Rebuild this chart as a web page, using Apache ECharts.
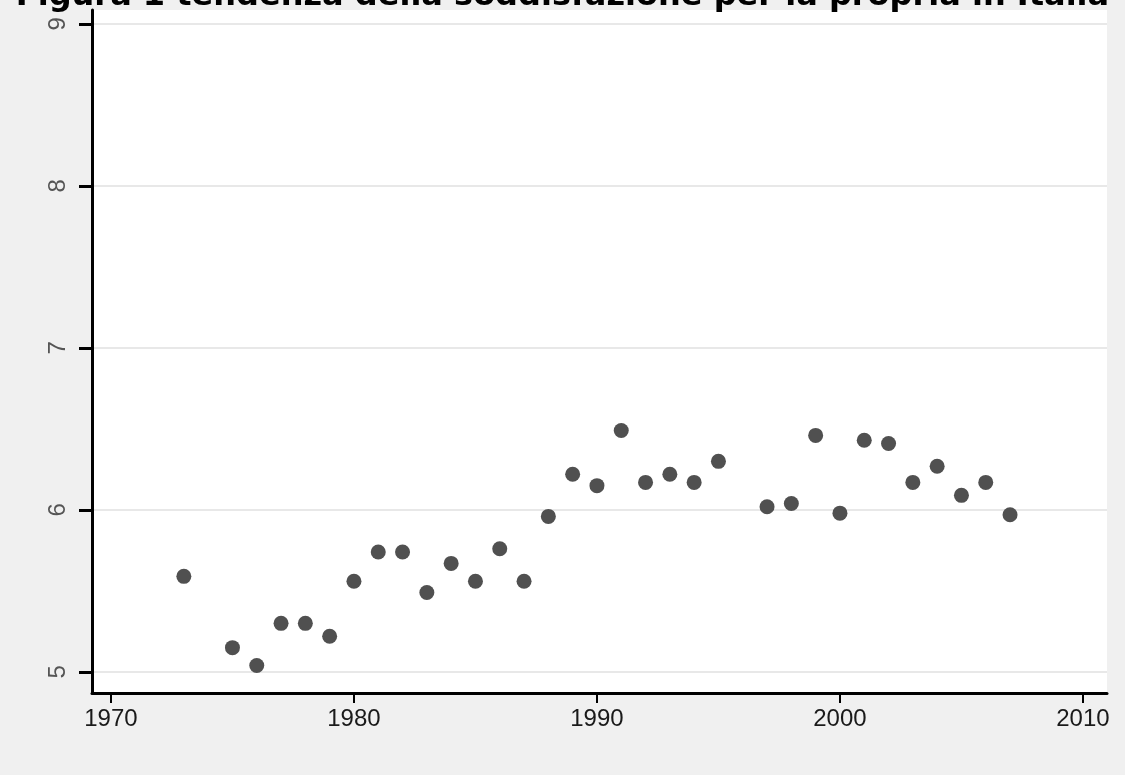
<!DOCTYPE html>
<html>
<head>
<meta charset="utf-8">
<script src="https://cdn.jsdelivr.net/npm/echarts@6/dist/echarts.min.js"></script>
<style>
  html, body { margin: 0; padding: 0; background: #f0f0f0; }
  #chart { width: 1125px; height: 775px; }
</style>
</head>
<body>
<div id="chart"></div>
<script>
// anni e valori medi di soddisfazione
const years = [1973, 1975, 1976, 1977, 1978, 1979, 1980, 1981, 1982, 1983, 1984,
  1985, 1986, 1987, 1988, 1989, 1990, 1991, 1992, 1993, 1994, 1995,
  1997, 1998, 1999, 2000, 2001, 2002, 2003, 2004, 2005, 2006, 2007];
const values = [5.59, 5.15, 5.04, 5.30, 5.30, 5.22, 5.56, 5.74, 5.74, 5.49, 5.67,
  5.56, 5.76, 5.56, 5.96, 6.22, 6.15, 6.49, 6.17, 6.22, 6.17, 6.30,
  6.02, 6.04, 6.46, 5.98, 6.43, 6.41, 6.17, 6.27, 6.09, 6.17, 5.97];

const xTicks = [1970, 1980, 1990, 2000, 2010];
const yTicks = [5, 6, 7, 8, 9];

const titleText = 'Figura 1 tendenza della soddisfazione per la propria in Italia';

const chart = echarts.init(document.getElementById('chart'));

const points = years.map((y, i) => [y, values[i]]);

chart.setOption({
  backgroundColor: '#f0f0f0',
  animation: false,
  title: {
    text: titleText,
    left: 'center',
    top: -24,
    textStyle: {
      fontFamily: 'DejaVu Sans',
      fontWeight: 'bold',
      fontSize: 32,
      color: '#000'
    }
  },
  grid: {
    left: 92,
    right: 18,
    top: 10,
    bottom: 82,
    show: true,
    backgroundColor: '#ffffff',
    borderWidth: 0
  },
  xAxis: {
    type: 'value',
    min: 1969.22,
    max: 2010.99,
    axisLine: { show: true, lineStyle: { color: '#000', width: 3 } },
    axisTick: { show: true, length: 10, customValues: xTicks, lineStyle: { color: '#000', width: 2 } },
    axisLabel: {
      customValues: xTicks,
      formatter: v => String(v),
      margin: 14,
      fontSize: 24,
      fontFamily: 'Liberation Sans',
      color: '#1a1a1a'
    },
    splitLine: { show: false }
  },
  yAxis: {
    type: 'value',
    min: 4.87,
    max: 9.086,
    axisLine: { show: true, lineStyle: { color: '#000', width: 3 } },
    axisTick: { show: true, length: 13, customValues: yTicks, lineStyle: { color: '#000', width: 3 } },
    axisLabel: {
      customValues: yTicks,
      formatter: v => String(v),
      rotate: 90,
      margin: 22,
      fontSize: 24,
      fontFamily: 'Liberation Sans',
      color: '#555'
    },
    splitLine: { show: true, lineStyle: { color: '#e8e8e8', width: 2 } }
  },
  series: [{
    type: 'scatter',
    data: points,
    symbol: 'circle',
    symbolSize: 15,
    itemStyle: { color: '#505050', opacity: 1 }
  }]
});
</script>
</body>
</html>
